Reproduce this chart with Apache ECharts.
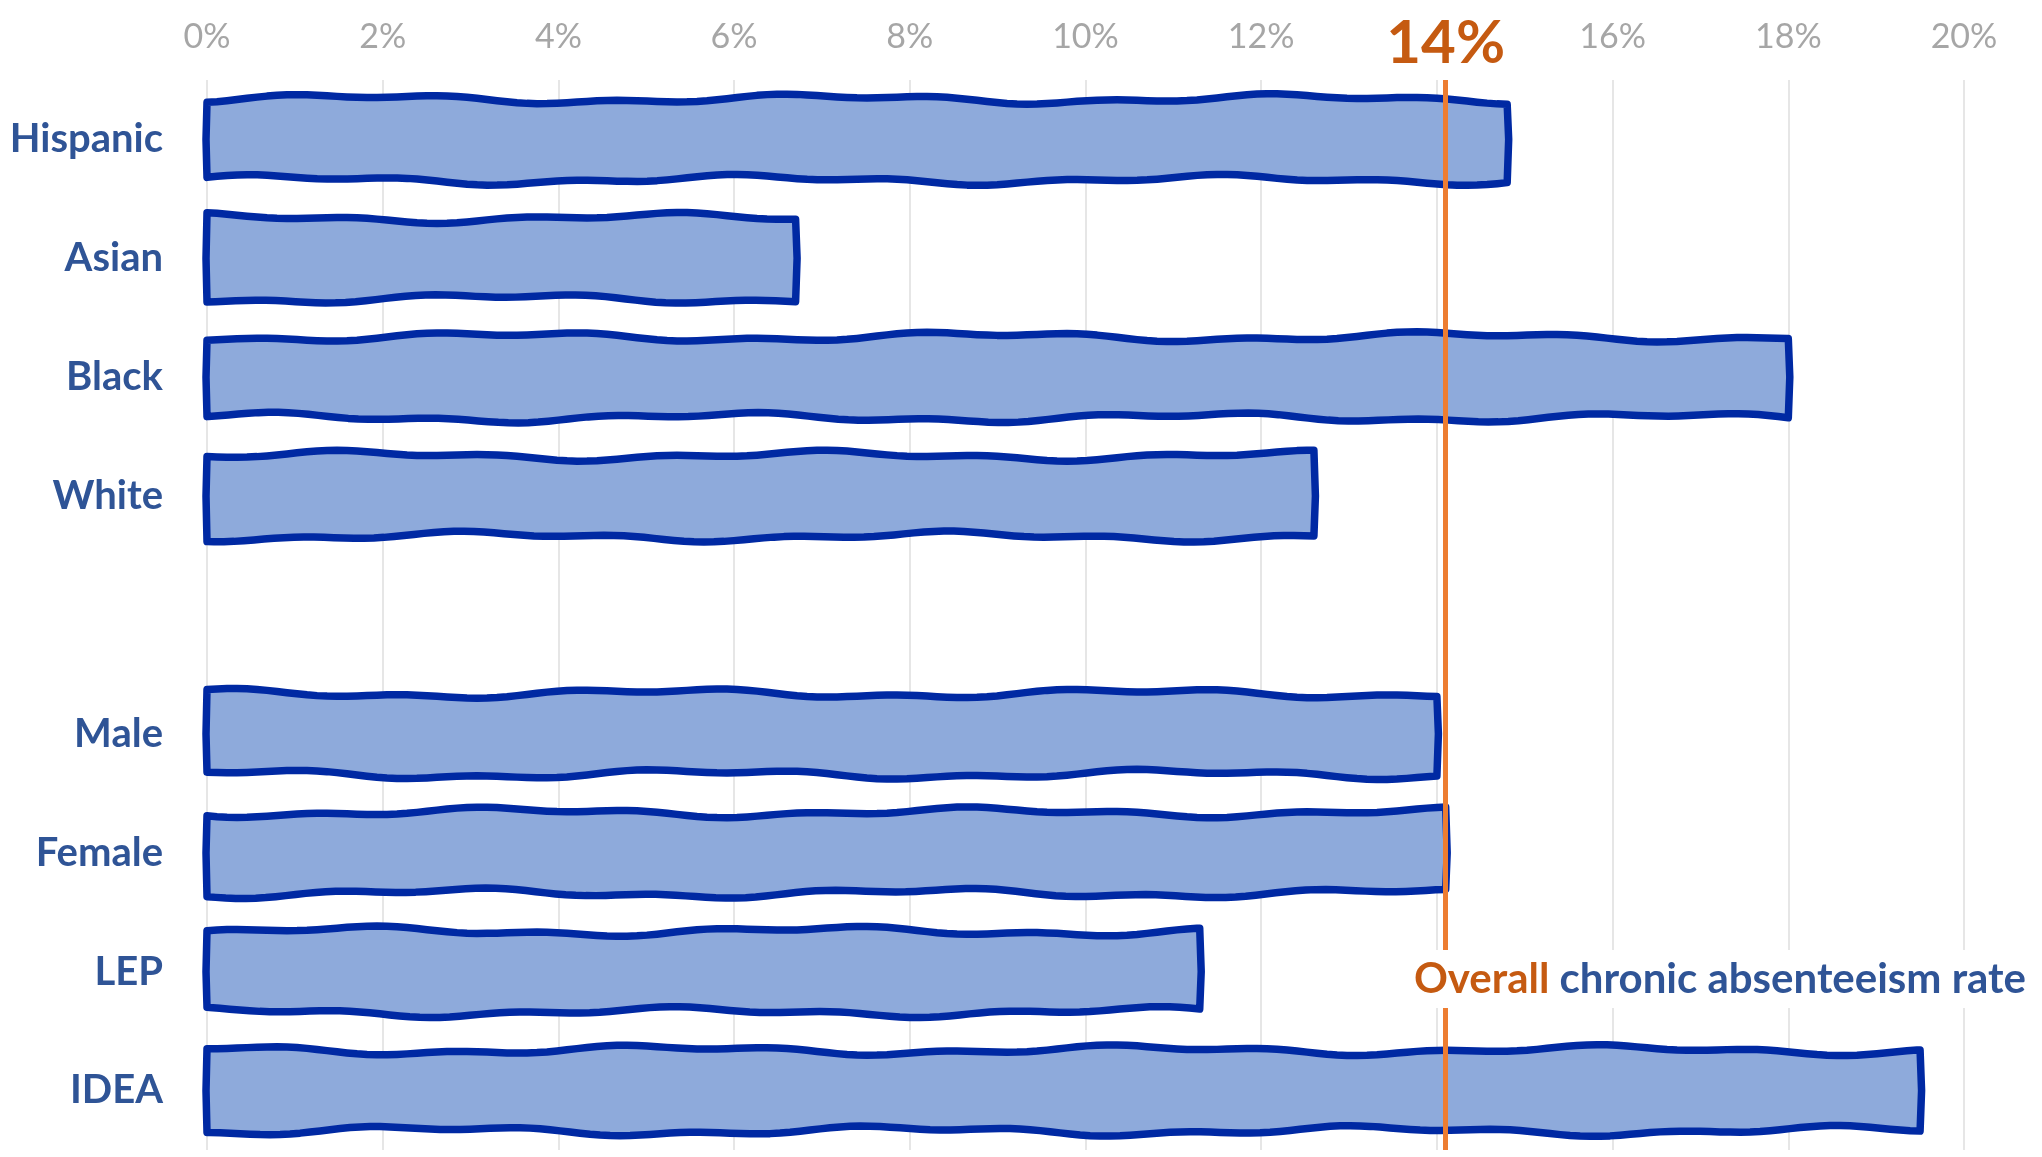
<!DOCTYPE html>
<html>
<head>
<meta charset="utf-8">
<script src="https://cdn.jsdelivr.net/npm/echarts@6/dist/echarts.min.js"></script>
<style>
  html, body { margin: 0; padding: 0; background: #fff; }
  #main { width: 2042px; height: 1157px; }
</style>
</head>
<body>
<div id="main"></div>
<script>
// groups, with an empty slot between race and the other groups
var groups = ['Hispanic', 'Asian', 'Black', 'White', '', 'Male', 'Female', 'LEP', 'IDEA'];
var rates = [14.8, 6.7, 18.0, 12.6, null, 14.0, 14.1, 11.3, 19.5];
var overallRate = 14.1;
var tickMin = 0, tickMax = 20, tickStep = 2;

var myChart = echarts.init(document.getElementById('main'));

var barData = [];
rates.forEach(function (v, i) {
    if (v !== null) barData.push([i, v]);
});

// hand-drawn looking bar: wobbly top and bottom edges
function wob(x, s) {
    return 3.5 * Math.sin(x / 75 + s) + 2 * Math.sin(x / 26 + s * 1.7);
}
function renderItem(params, api) {
    var cat = api.value(0);
    var p0 = api.coord([0, cat]);
    var p1 = api.coord([api.value(1), cat]);
    var h = api.size([0, 1])[1] * 0.68;
    var top = p0[1] - h / 2, bot = p0[1] + h / 2;
    var k = params.dataIndex;
    var pts = [], x;
    for (x = p0[0]; x < p1[0]; x += 10) pts.push([x, top + wob(x, k * 2.1)]);
    pts.push([p1[0], top + wob(p1[0], k * 2.1)]);
    pts.push([p1[0] + 1.5, p0[1]]);
    for (x = p1[0]; x > p0[0]; x -= 10) pts.push([x, bot + wob(x, k * 3.3 + 1)]);
    pts.push([p0[0], bot + wob(p0[0], k * 3.3 + 1)]);
    pts.push([p0[0] - 1, p0[1]]);
    return {
        type: 'polygon',
        shape: { points: pts },
        style: { fill: '#8eaadb', stroke: '#0029a3', lineWidth: 7.5, lineJoin: 'round' }
    };
}

var option = {
    backgroundColor: '#fff',
    animation: false,
    grid: { left: 207, right: 78, top: 80, bottom: 7 },
    xAxis: {
        type: 'value',
        position: 'top',
        min: tickMin,
        max: tickMax,
        interval: tickStep,
        axisLine: { show: false },
        axisTick: { show: false },
        axisLabel: {
            // the overall rate tick is replaced by the big orange label
            formatter: function (v) {
                return v === Math.round(overallRate) ? '' : v + '%';
            },
            color: '#a6a6a6',
            fontFamily: 'Lato',
            fontSize: 34,
            margin: 26
        },
        splitLine: { lineStyle: { color: '#e6e6e6', width: 2 } }
    },
    yAxis: {
        type: 'category',
        data: groups,
        inverse: true,
        axisLine: { show: false },
        axisTick: { show: false },
        axisLabel: {
            color: '#2f5496',
            fontFamily: 'Lato',
            fontWeight: 'bold',
            fontSize: 40,
            margin: 44,
            padding: [6, 0, 0, 0]
        }
    },
    series: [{
        type: 'custom',
        renderItem: renderItem,
        data: barData,
        encode: { x: 1, y: 0 },
        z: 3,
        markLine: {
            silent: true,
            symbol: 'none',
            lineStyle: { color: '#ed7d31', width: 5, type: 'solid' },
            label: {
                position: 'start',
                formatter: Math.round(overallRate) + '%',
                color: '#c55a11',
                fontFamily: 'Lato',
                fontWeight: 'bold',
                fontSize: 60,
                distance: 6
            },
            data: [{ xAxis: overallRate }]
        }
    }],
    graphic: [{
        type: 'text',
        right: 12,
        top: 950,
        z: 100,
        style: {
            text: '{o|Overall }{b|chronic absenteeism rate}',
            backgroundColor: '#fff',
            padding: [8, 4],
            rich: {
                o: { fill: '#c55a11', fontFamily: 'Lato', fontWeight: 'bold', fontSize: 42 },
                b: { fill: '#2f5496', fontFamily: 'Lato', fontWeight: 'bold', fontSize: 42 }
            }
        }
    }]
};

myChart.setOption(option);
</script>
</body>
</html>
